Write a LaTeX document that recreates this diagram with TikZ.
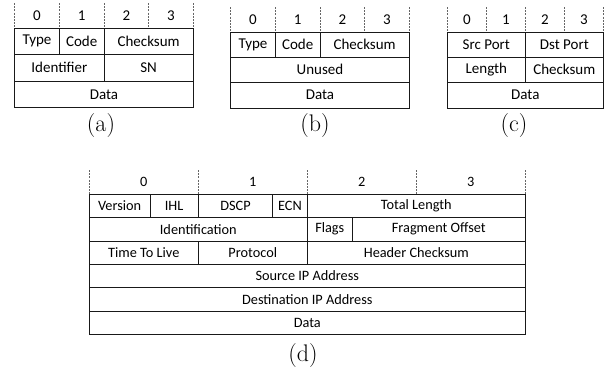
\documentclass[tikz,border=0pt]{standalone}
\usepackage{fontspec}
\newfontfamily\cellfont{Carlito}
\begin{document}
\begin{tikzpicture}[x=1pt,y=-1pt,
  cell/.style={draw=black!90,line width=0.95pt,inner sep=0pt,font=\cellfont\fontsize{15}{17}\selectfont},
  dcell/.style={cell,font=\cellfont\fontsize{14.3}{16}\selectfont},
  hdr/.style={inner sep=0pt,font=\cellfont\fontsize{15}{17}\selectfont},
  dhdr/.style={hdr,font=\cellfont\fontsize{14.3}{16}\selectfont},
  sep/.style={draw=black!60,line width=0.7pt,dash pattern=on 2pt off 1.2pt},
  caption/.style={inner sep=0pt,font=\fontsize{24}{28}\selectfont}]
\useasboundingbox (0,0) rectangle (605,372);
\newcommand{\pc}[7][cell]{\node[#1,minimum width={(#5-#3)*1pt},minimum height={(#6-#4)*1pt}] (#2) at ({(#3+#5)/2},{(#4+#6)/2}) {#7};}
% ---------- (a)
\foreach \x in {14.7,59.35,104,148.65,193.3} \draw[sep] (\x,3) -- (\x,28);
\node[hdr] (a0) at (37.0,15.5) {0};
\node[hdr] (a1) at (81.7,15.5) {1};
\node[hdr] (a2) at (126.3,15.5) {2};
\node[hdr] (a3) at (171.0,15.5) {3};
\pc{aType}{14.7}{28}{59.35}{54.5}{Type}
\pc{aCode}{59.35}{28}{104}{54.5}{Code}
\pc{aChk}{104}{28}{193.3}{54.5}{Checksum}
\pc{aId}{14.7}{54.5}{104}{81}{Identifier}
\pc{aSN}{104}{54.5}{193.3}{81}{SN}
\pc{aData}{14.7}{81}{193.3}{107.5}{Data}
\node[caption] (acap) at (101,126) {(a)};
% ---------- (b)
\foreach \x in {230.7,275.35,320,364.65,409.3} \draw[sep] (\x,7) -- (\x,32);
\node[hdr] (b0) at (253.0,19.5) {0};
\node[hdr] (b1) at (297.7,19.5) {1};
\node[hdr] (b2) at (342.3,19.5) {2};
\node[hdr] (b3) at (387.0,19.5) {3};
\pc{bType}{230.7}{32}{275.35}{57}{Type}
\pc{bCode}{275.35}{32}{320}{57}{Code}
\pc{bChk}{320}{32}{409.3}{57}{Checksum}
\pc{bUnused}{230.7}{57}{409.3}{82}{Unused}
\pc{bData}{230.7}{82}{409.3}{108}{Data}
\node[caption] (bcap) at (315,126) {(b)};
% ---------- (c)
\foreach \x in {447.3,486.3,525.3,564.3,603.3} \draw[sep] (\x,7) -- (\x,32);
\node[hdr] (c0) at (466.8,19.5) {0};
\node[hdr] (c1) at (505.8,19.5) {1};
\node[hdr] (c2) at (544.8,19.5) {2};
\node[hdr] (c3) at (583.8,19.5) {3};
\pc{cSrc}{447.3}{32}{525.3}{57}{Src Port}
\pc{cDst}{525.3}{32}{603.3}{57}{Dst Port}
\pc{cLen}{447.3}{57}{525.3}{82}{Length}
\pc{cChk}{525.3}{57}{603.3}{82}{Checksum}
\pc{cData}{447.3}{82}{603.3}{108}{Data}
\node[caption] (ccap) at (514,126) {(c)};
% ---------- (d)
\foreach \x in {89.3,198.3,307.3,416.3,525.3} \draw[sep] (\x,170) -- (\x,194);
\node[dhdr] (d0) at (143.8,182) {0};
\node[dhdr] (d1) at (252.8,182) {1};
\node[dhdr] (d2) at (361.8,182) {2};
\node[dhdr] (d3) at (470.8,182) {3};
\pc[dcell]{dVer}{89.3}{194}{150}{217.5}{Version}
\pc[dcell]{dIHL}{150}{194}{198.3}{217.5}{IHL}
\pc[dcell]{dDSCP}{198.3}{194}{272.7}{217.5}{DSCP}
\pc[dcell]{dECN}{272.7}{194}{307.3}{217.5}{ECN}
\pc[dcell]{dTot}{307.3}{194}{525.3}{217.5}{Total Length}
\pc[dcell]{dIdent}{89.3}{217.5}{307.3}{241}{Identification}
\pc[dcell]{dFlags}{307.3}{217.5}{352.3}{241}{Flags}
\pc[dcell]{dFrag}{352.3}{217.5}{525.3}{241}{Fragment Offset}
\pc[dcell]{dTTL}{89.3}{241}{198.3}{264.3}{Time To Live}
\pc[dcell]{dProto}{198.3}{241}{307.3}{264.3}{Protocol}
\pc[dcell]{dHChk}{307.3}{241}{525.3}{264.3}{Header Checksum}
\pc[dcell]{dSrc}{89.3}{264.3}{525.3}{287.7}{Source IP Address}
\pc[dcell]{dDst}{89.3}{287.7}{525.3}{311}{Destination IP Address}
\pc[dcell]{dData}{89.3}{311}{525.3}{334.5}{Data}
\node[caption] (dcap) at (303,356) {(d)};
\end{tikzpicture}
\end{document}
